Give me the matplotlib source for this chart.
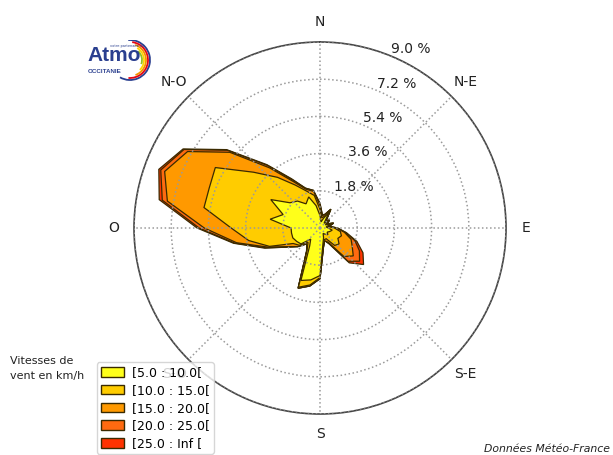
import numpy as np
import matplotlib
matplotlib.use('Agg')
import matplotlib.pyplot as plt
from matplotlib.patches import Patch, Arc

# wind directions (degrees, clockwise from north) and frequency (%) per speed class
directions = np.arange(0, 360, 10)
freq_5_10 = [0.6, 0.3, 0.5, 0.9, 0.3, 0.5, 0.3, 0.6, 0.3, 0.4, 0.6, 0.5,
             0.4, 0.5, 0.4, 0.3, 0.5, 0.8, 2.3, 2.55, 2.7, 1.0, 0.7, 1.2,
             1.3, 1.4, 1.4, 1.4, 2.45, 1.9, 2.75, 1.9, 1.7, 1.35, 1.6, 1.1]
freq_10_15 = [0.3, 0.2, 0.1, 0.1, 0.1, 0.1, 0.05, 0.05, 0.1, 0.3, 0.4, 0.6,
              0.6, 0.7, 0.7, 0.3, 0.1, 0.1, 0.1, 0.25, 0.35, 0.25, 0.2, 0.1,
              0.2, 1.2, 2.1, 2.9, 3.25, 3.8, 3.1, 2.3, 1.5, 1.05, 0.3, 0.5]
freq_15_20 = [0.2, 0.1, 0.1, 0.05, 0.05, 0.0, 0.05, 0.05, 0.05, 0.1, 0.2, 0.5,
              0.8, 0.9, 0.7, 0.2, 0.05, 0.05, 0.05, 0.05, 0.05, 0.05, 0.1, 0.1,
              0.3, 0.1, 0.6, 1.3, 1.8, 2.3, 1.55, 1.5, 0.6, 0.2, 0.1, 0.2]
freq_20_25 = [0.05, 0.05, 0.0, 0.0, 0.0, 0.0, 0.0, 0.0, 0.0, 0.05, 0.05, 0.2,
              0.4, 0.4, 0.3, 0.05, 0.0, 0.0, 0.0, 0.0, 0.0, 0.0, 0.0, 0.0,
              0.05, 0.1, 0.1, 0.25, 0.25, 0.2, 0.2, 0.15, 0.15, 0.1, 0.05, 0.05]
freq_25_inf = [0.05, 0.0, 0.0, 0.0, 0.0, 0.0, 0.0, 0.0, 0.0, 0.0, 0.05, 0.1,
               0.2, 0.25, 0.1, 0.05, 0.0, 0.0, 0.0, 0.0, 0.0, 0.0, 0.0, 0.0,
               0.0, 0.05, 0.05, 0.1, 0.15, 0.1, 0.05, 0.05, 0.05, 0.05, 0.0, 0.0]

classes = ['[5.0 : 10.0[', '[10.0 : 15.0[', '[15.0 : 20.0[',
           '[20.0 : 25.0[', '[25.0 : Inf [']
colors = ['#ffff1a', '#ffcc00', '#ff9900', '#ff6a10', '#ff3300']
rings = [1.8, 3.6, 5.4, 7.2, 9.0]
compass = ['N', 'N-E', 'E', 'S-E', 'S', 'S-O', 'O', 'N-O']

edge = '#3a2a00'
txt = '#222222'

fig = plt.figure(figsize=(6.13, 4.55), dpi=100)
ax = fig.add_axes([0.2186, 0.0901, 0.6069, 0.8176], projection='polar')
ax.set_theta_zero_location('N')
ax.set_theta_direction(-1)

# stacked (cumulative) frequencies, outermost class drawn first
stack = np.cumsum(np.array([freq_5_10, freq_10_15, freq_15_20,
                            freq_20_25, freq_25_inf]), axis=0)
theta = np.radians(np.append(directions, directions[0]))
for i in range(len(classes) - 1, -1, -1):
    r = np.append(stack[i], stack[i][0])
    ax.fill(theta, r, facecolor=colors[i], edgecolor=edge, lw=0.9)

ax.set_ylim(0, rings[-1])
ax.set_yticks(rings)
ax.set_yticklabels([])
ax.set_xticks(np.radians(np.arange(0, 360, 45)))
ax.set_xticklabels(compass, fontsize=10, color=txt)
ax.tick_params(axis='x', pad=4)
ax.set_axisbelow(False)
ax.grid(True, linestyle=':', color='#9a9a9a', lw=1.1)
ax.spines['polar'].set_color('#444444')
ax.spines['polar'].set_linewidth(1.2)

for r in rings:
    ax.text(np.radians(22.5), r, '%.1f %%' % r, fontsize=10, color=txt,
            ha='left', va='bottom')

handles = [Patch(facecolor=c, edgecolor=edge, lw=1.0) for c in colors]
fig.legend(handles, classes, loc='lower left',
           bbox_to_anchor=(0.152, -0.006), fontsize=9, labelspacing=0.38,
           handlelength=1.9, handleheight=0.8, handletextpad=0.6,
           borderpad=0.3, borderaxespad=0.3, frameon=True, fancybox=True,
           edgecolor='#cccccc')
fig.text(0.016, 0.218, 'Vitesses de\nvent en km/h', fontsize=8, color=txt,
         ha='left', va='top', linespacing=1.65)
fig.text(0.995, 0.013, 'Données Météo-France', fontsize=7.8, style='italic',
         color=txt, ha='right', va='center')

# small logo top left
lax = fig.add_axes([80 / 613, 1 - 84 / 455, 75 / 613, 44 / 455])
lax.set_xlim(0, 75)
lax.set_ylim(0, 44)
lax.axis('off')
arc_cols = ['#2a3f8f', '#e30613', '#f39200', '#ffd500', '#95c11f']
for k, c in enumerate(arc_cols):
    rad = 40 - 4 * k
    lax.add_patch(Arc((50, 24), rad, rad, theta1=-120 + 25 * k, theta2=95 - 12 * k,
                      color=c, lw=1.3))
lax.text(7, 19, 'Atmo', fontsize=15, fontweight='bold', color='#2a3f8f',
         family='Liberation Sans', ha='left', va='bottom')
lax.text(8, 12.5, 'OCCITANIE', fontsize=4.5, fontweight='bold', color='#2a3f8f',
         family='Liberation Sans', ha='left', va='center')
lax.text(30, 38.5, 'votre partenaire air', fontsize=2.5, color='#2a3f8f',
         ha='left', va='center')

fig.savefig('out.png', dpi=100)
